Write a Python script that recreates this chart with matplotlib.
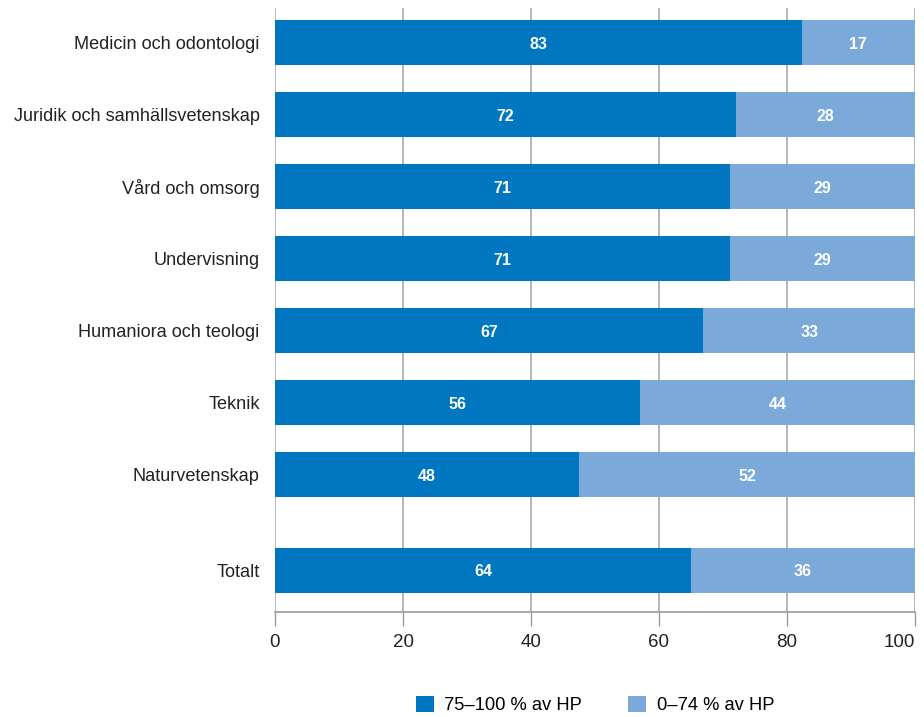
import matplotlib
matplotlib.use("Agg")
import matplotlib.pyplot as plt
from matplotlib.patches import Patch

categories = ["Medicin och odontologi", "Juridik och samhällsvetenskap", "Vård och omsorg",
              "Undervisning", "Humaniora och teologi", "Teknik", "Naturvetenskap", "Totalt"]
# bar lengths as drawn (share 75–100 % av HP)
high = [82.3, 72.0, 71.1, 71.1, 66.9, 57.0, 47.5, 65.0]
low = [100 - v for v in high]
high_labels = ["83", "72", "71", "71", "67", "56", "48", "64"]
low_labels = ["17", "28", "29", "29", "33", "44", "52", "36"]
positions = [0, 1, 2, 3, 4, 5, 6, 7.32]
xticks = [0, 20, 40, 60, 80, 100]
legend_labels = ["75–100 % av HP", "0–74 % av HP"]

dark = "#0077C0"
light = "#7BAADA"
font = "Liberation Sans"

fig = plt.figure(figsize=(9.24, 7.17), dpi=100)
ax = fig.add_axes([275/924, 1 - 612/717, 640/924, 604/717])

ax.barh(positions, high, height=0.625, color=dark, zorder=3)
ax.barh(positions, low, left=high, height=0.625, color=light, zorder=3)

for y, h, l, hl, ll in zip(positions, high, low, high_labels, low_labels):
    ax.text(h / 2, y + 0.02, hl, ha="center", va="center", color="white",
            fontsize=11.5, fontweight="bold", family=font, zorder=4)
    ax.text(h + l / 2, y + 0.02, ll, ha="center", va="center", color="white",
            fontsize=11.5, fontweight="bold", family=font, zorder=4)

ax.set_xlim(0, 100)
ax.set_ylim(7.32 + 0.583, -0.486)
ax.set_yticks(positions)
ax.set_yticklabels(categories, family=font, fontsize=13.1, color="#222222")
ax.set_xticks(xticks)
ax.set_xticklabels([str(t) for t in xticks], family=font, fontsize=13.5, color="#222222")
ax.get_xticklabels()[-1].set_horizontalalignment("right")
ax.tick_params(axis="y", length=0, pad=11)
ax.tick_params(axis="x", length=10, width=1, color="#999999", pad=6)
ax.grid(axis="x", color="#aaaaaa", linewidth=1.2, zorder=0)
for s in ["top", "right", "left"]:
    ax.spines[s].set_visible(False)
ax.spines["bottom"].set_color("#999999")
ax.spines["bottom"].set_linewidth(1.2)

handles = [Patch(facecolor=dark), Patch(facecolor=light)]
fig.legend(handles, legend_labels, loc="center", bbox_to_anchor=(595/924, 1 - 705/717),
           ncol=2, frameon=False, prop={"family": font, "size": 13.2},
           handlelength=1.0, handleheight=1.0, columnspacing=2.5, handletextpad=0.55)

fig.savefig("out.png", dpi=100)
